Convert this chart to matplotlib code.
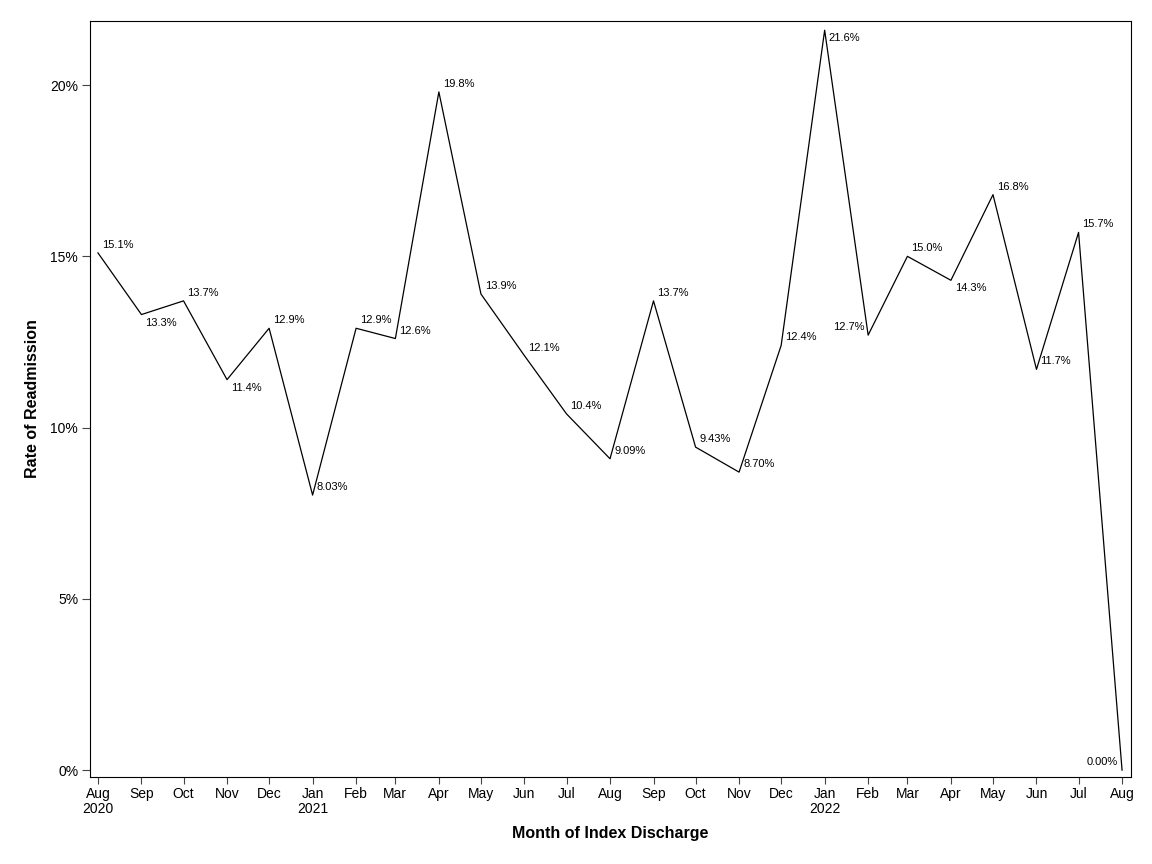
import numpy as np
import matplotlib
matplotlib.use("Agg")
import matplotlib.pyplot as plt
import matplotlib.dates as mdates
from matplotlib.ticker import FuncFormatter
from datetime import date, timedelta

plt.rcParams['font.family'] = ['Liberation Sans', 'DejaVu Sans']

# monthly readmission rate (%)
months = ['2020-08', '2020-09', '2020-10', '2020-11', '2020-12',
          '2021-01', '2021-02', '2021-03', '2021-04', '2021-05', '2021-06',
          '2021-07', '2021-08', '2021-09', '2021-10', '2021-11', '2021-12',
          '2022-01', '2022-02', '2022-03', '2022-04', '2022-05', '2022-06',
          '2022-07', '2022-08']
rates = [15.1, 13.3, 13.7, 11.4, 12.9,
         8.03, 12.9, 12.6, 19.8, 13.9, 12.1,
         10.4, 9.09, 13.7, 9.43, 8.70, 12.4,
         21.6, 12.7, 15.0, 14.3, 16.8, 11.7,
         15.7, 0.00]
labels = ['15.1%', '13.3%', '13.7%', '11.4%', '12.9%',
          '8.03%', '12.9%', '12.6%', '19.8%', '13.9%', '12.1%',
          '10.4%', '9.09%', '13.7%', '9.43%', '8.70%', '12.4%',
          '21.6%', '12.7%', '15.0%', '14.3%', '16.8%', '11.7%',
          '15.7%', '0.00%']
# label placement: ur = upper right, lr = lower right, ul = upper left
place = ['ur', 'lr', 'ur', 'lr', 'ur',
         'ur', 'ur', 'ur', 'ur', 'ur', 'ur',
         'ur', 'ur', 'ur', 'ur', 'ur', 'ur',
         'lr', 'ul', 'ur', 'lr', 'ur', 'ur',
         'ur', 'ul']
tick_text = ['Aug\n2020', 'Sep', 'Oct', 'Nov', 'Dec',
             'Jan\n2021', 'Feb', 'Mar', 'Apr', 'May', 'Jun',
             'Jul', 'Aug', 'Sep', 'Oct', 'Nov', 'Dec',
             'Jan\n2022', 'Feb', 'Mar', 'Apr', 'May', 'Jun',
             'Jul', 'Aug']

x = [date(int(m[:4]), int(m[5:]), 1) for m in months]

fig = plt.figure(figsize=(11.52, 8.64), dpi=100)
ax = fig.add_axes([0.0781, 0.1007, 0.9037, 0.875])

ax.plot(x, rates, color='black', linewidth=0.9)

offs = {'ur': (4, 8, 'left'), 'lr': (4, -8, 'left'), 'ul': (-4, 8, 'right')}
for xi, yi, lab, p in zip(x, rates, labels, place):
    dx, dy, ha = offs[p]
    ax.annotate(lab, (mdates.date2num(xi), yi), xytext=(dx, dy),
                textcoords='offset pixels', ha=ha, va='center', fontsize=8)

ax.set_xlim(mdates.date2num(x[0]) - 5.7, mdates.date2num(x[-1]) + 6.4)
ax.set_ylim(-0.2, 21.87)
ax.set_xticks([mdates.date2num(d) for d in x])
ax.set_xticklabels(tick_text, fontsize=10, linespacing=1.05)
ax.set_yticks([0, 5, 10, 15, 20])
ax.yaxis.set_major_formatter(FuncFormatter(lambda v, pos: f'{v:.0f}%'))
ax.tick_params(axis='y', labelsize=10, length=6, pad=2.5, color='#444444')
ax.tick_params(axis='x', length=5, pad=2.5, color='#444444')

ax.set_xlabel('Month of Index Discharge', fontsize=11.5, fontweight='bold', labelpad=7)
ax.set_ylabel('Rate of Readmission', fontsize=11.5, fontweight='bold', labelpad=7)

plt.savefig('out.png', dpi=100)
